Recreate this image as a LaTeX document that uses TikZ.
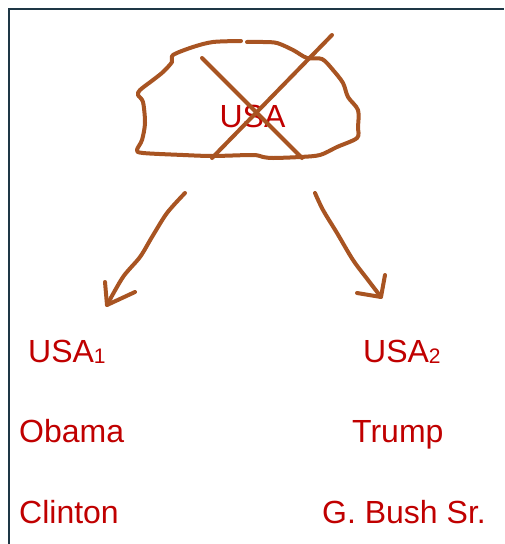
\documentclass[tikz,border=0pt]{standalone}
\usepackage{fontspec}
\setmainfont{Liberation Sans}
\definecolor{framec}{RGB}{30,55,70}
\definecolor{brownc}{RGB}{168,84,34}
\definecolor{redc}{RGB}{192,0,0}
\begin{document}
\begin{tikzpicture}[x=1pt,y=-1pt,
  stroke/.style={brownc,line width=4pt,line cap=round,line join=round},
  lbl/.style={text=redc,font=\fontsize{32}{36}\selectfont,inner sep=0pt,anchor=base west}]
\useasboundingbox (0,0) rectangle (504,544);
\fill[white] (0,0) rectangle (504,544);
% frame
\draw[framec,line width=2pt] (9,544) -- (9,9) -- (504,9);
% cloud
\draw[stroke] plot[smooth,tension=0.5] coordinates {(247,42) (263,42) (277,43) (293,50) (307,58) (322,59) (333,70) (343,83) (348,97) (358,110) (358,127) (357,138) (337,147) (320,155) (300,157) (273,158) (263,157) (253,155) (213,156) (183,155) (143,153) (137,150) (142,140) (145,123) (143,102) (138,95) (140,90) (153,80) (163,72) (172,62) (173,55) (193,47) (213,42) (241,41)};
\node[text=redc,font=\fontsize{32}{36}\selectfont,inner sep=0pt,anchor=base] (usa) at (252.5,127) {USA};
% cross
\draw[stroke] (202,58) -- (302,158);
\draw[stroke] (332,35) -- (212,158);
% labels
\node[lbl] (usa1) at (28,362) {USA\raisebox{-1pt}{\fontsize{21}{21}\selectfont 1}};
\node[lbl] (usa2) at (363,362) {USA\raisebox{-1pt}{\fontsize{21}{21}\selectfont 2}};
\node[lbl] (obama) at (19,442) {Obama};
\node[lbl] (trump) at (352,442) {Trump};
\node[lbl] (clinton) at (19,523) {Clinton};
\node[lbl] (bush) at (322,523) {G. Bush Sr.};
% arrows
\coordinate (ls) at (185,193);
\coordinate (lt) at (107,305);
\coordinate (rs) at (315,193);
\coordinate (rt) at (381,297);
\draw[stroke] plot[smooth,tension=0.5] coordinates {(ls) (167,213) (152,237) (140,257) (123,277) (lt)};
\draw[stroke] (105,282) -- (lt) -- (135,292);
\draw[stroke] plot[smooth,tension=0.5] coordinates {(rs) (323,210) (337,233) (353,260) (368,280) (rt)};
\draw[stroke] (385,275) -- (rt) -- (357,293);
\end{tikzpicture}
\end{document}
